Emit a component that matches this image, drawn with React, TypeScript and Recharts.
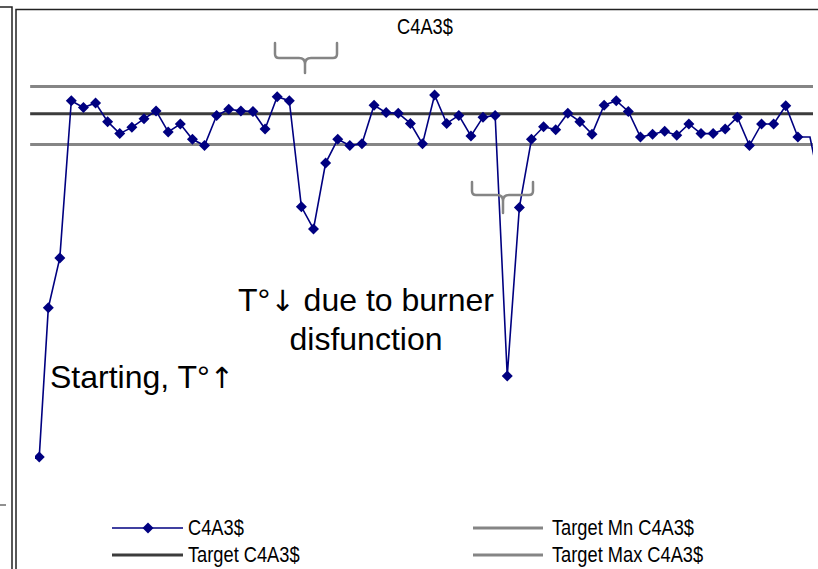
import React from 'react';
import { LineChart, Line, XAxis, YAxis, ReferenceLine } from 'recharts';

// sampling time (h) and C4A3$ content of each clinker sample
const hours = [
  0.7, 2.2, 4.1, 6, 8, 10, 12, 14, 16, 18, 20, 22, 24, 26, 28, 30, 32, 34, 36, 38,
  40, 42, 44, 46, 48, 50, 52, 54, 56, 58, 60, 62, 64, 66, 68, 70, 72, 74, 76, 78,
  80, 82, 84, 86, 88, 90, 92, 94, 96, 98, 100, 102, 104, 106, 108, 110, 112, 114,
  116, 118, 120, 122, 124, 126, 128, 130,
];
const c4a3s = [
  9.5, 35.8, 44.6, 72.3, 71.1, 71.9, 68.6, 66.5, 67.6, 69.1, 70.5, 66.8, 68.2, 65.5,
  64.4, 69.7, 70.8, 70.5, 70.4, 67.3, 73.0, 72.3, 53.6, 49.7, 61.3, 65.5, 64.4, 64.7,
  71.5, 70.2, 70.1, 68.3, 64.7, 73.3, 68.3, 69.7, 66.1, 69.4, 69.7, 23.8, 53.5, 65.5,
  67.7, 67.2, 70.1, 68.6, 66.4, 71.5, 72.3, 70.4, 65.9, 66.4, 66.9, 66.2, 68.2, 66.5,
  66.5, 67.3, 69.4, 64.4, 68.2, 68.2, 71.4, 65.9, 65.9, 55.5,
];

const TARGET = 70;
const TARGET_MIN = 64.6;
const TARGET_MAX = 74.8;

const X_MAX = 128.5;
const Y_MAX = 80;

const NAVY = '#000080';
const DARK = '#3c3c3c';
const GREY = '#858585';
const FONT = '"Liberation Sans", Arial, sans-serif';
const ARROW_FONT = '"DejaVu Sans", sans-serif';
const SQUEEZE = 0.83;

const data = hours.map((t, i) => ({ t, value: c4a3s[i] }));

// Excel style diamond marker; markers falling on the plot edge are left out
const Diamond = (props: any) => {
  const { cx, cy, payload, index } = props;
  if (cx == null || cy == null || payload.t > X_MAX - 1) return <g key={`d-${index}`} />;
  const r = 5.5;
  return (
    <polygon
      key={`d-${index}`}
      points={`${cx},${cy - r} ${cx + r},${cy} ${cx},${cy + r} ${cx - r},${cy}`}
      fill={NAVY}
    />
  );
};

const NarrowText = ({
  x,
  y,
  anchor = 'start',
  children,
}: {
  x: number;
  y: number;
  anchor?: 'start' | 'middle';
  children: React.ReactNode;
}) => (
  <text
    transform={`translate(${x},${y}) scale(${SQUEEZE},1)`}
    textAnchor={anchor}
    fontSize={22}
    fontFamily={FONT}
    fill="#000"
  >
    {children}
  </text>
);

const Arrow = ({ children }: { children: string }) => (
  <tspan fontFamily={ARROW_FONT} fontSize={29}>
    {children}
  </tspan>
);

// curly bracket lying on its side, tip pointing down
const bracePath = (x0: number, x1: number, yt: number, yh: number, yc: number, xm: number) =>
  `M${x0},${yt} V${yh - 4} Q${x0},${yh} ${x0 + 4},${yh} H${xm - 6} Q${xm},${yh} ${xm},${yh + 6} V${yc}` +
  ` M${xm},${yh + 6} Q${xm},${yh} ${xm + 6},${yh} H${x1 - 4} Q${x1},${yh} ${x1},${yh - 4} V${yt}`;

const App = () => {
  const refSegment = (y: number) => [
    { x: -0.8, y },
    { x: X_MAX, y },
  ];

  return (
    <div
      style={{
        position: 'fixed',
        left: 0,
        top: 0,
        width: 818,
        height: 569,
        overflow: 'hidden',
        background: '#fff',
      }}
    >
      <LineChart
        width={818}
        height={569}
        data={data}
        margin={{ top: 57, right: 5, bottom: 58, left: 35 }}
      >
        <XAxis
          type="number"
          dataKey="t"
          domain={[0, X_MAX]}
          allowDataOverflow
          height={0}
          tick={false}
          tickLine={false}
          axisLine={{ stroke: '#000', strokeWidth: 1.2 }}
        />
        <YAxis
          domain={[0, Y_MAX]}
          width={0}
          tick={false}
          tickLine={false}
          axisLine={{ stroke: '#000', strokeWidth: 1.2 }}
        />
        <ReferenceLine segment={refSegment(TARGET_MAX)} stroke={GREY} strokeWidth={3} ifOverflow="visible" />
        <ReferenceLine segment={refSegment(TARGET)} stroke={DARK} strokeWidth={3} ifOverflow="visible" />
        <ReferenceLine segment={refSegment(TARGET_MIN)} stroke={GREY} strokeWidth={3} ifOverflow="visible" />
        <Line
          type="linear"
          dataKey="value"
          stroke={NAVY}
          strokeWidth={1.6}
          dot={Diamond}
          activeDot={false}
          isAnimationActive={false}
        />
      </LineChart>

      <svg
        width={818}
        height={569}
        style={{ position: 'absolute', left: 0, top: 0, pointerEvents: 'none' }}
      >
        {/* sheet borders */}
        <g stroke="#222" fill="none">
          <path d="M0,7 H12 V569" strokeWidth={1.5} />
          <path d="M16,569 V9.5 H818" strokeWidth={1.5} />
          <path d="M0,505 H6" strokeWidth={1} />
        </g>

        <NarrowText x={425} y={34} anchor="middle">
          C4A3$
        </NarrowText>

        {/* brackets over the burner incidents */}
        <g stroke={GREY} strokeWidth={2.5} fill="none" strokeLinecap="round">
          <path d={bracePath(275, 337, 43, 58, 73, 305)} />
          <path d={bracePath(472, 533, 182, 195, 213, 503)} />
        </g>

        <g fontFamily={FONT} fontSize={32} fill="#000">
          <text x={50} y={388}>
            Starting, T°<Arrow>↑</Arrow>
          </text>
          <text x={366} y={311} textAnchor="middle">
            T°<Arrow>↓</Arrow> due to burner
          </text>
          <text x={366} y={350} textAnchor="middle">
            disfunction
          </text>
        </g>

        {/* legend */}
        <line x1={112} x2={183} y1={528} y2={528} stroke={NAVY} strokeWidth={1.6} />
        <polygon points="148,522.5 153.5,528 148,533.5 142.5,528" fill={NAVY} />
        <NarrowText x={188} y={535}>
          C4A3$
        </NarrowText>
        <line x1={112} x2={183} y1={555} y2={555} stroke={DARK} strokeWidth={3} />
        <NarrowText x={188} y={562}>
          Target C4A3$
        </NarrowText>
        <line x1={473} x2={543} y1={528} y2={528} stroke={GREY} strokeWidth={3} />
        <NarrowText x={552} y={535}>
          Target Mn C4A3$
        </NarrowText>
        <line x1={473} x2={543} y1={555} y2={555} stroke={GREY} strokeWidth={3} />
        <NarrowText x={552} y={562}>
          Target Max C4A3$
        </NarrowText>
      </svg>
    </div>
  );
};

export default App;
